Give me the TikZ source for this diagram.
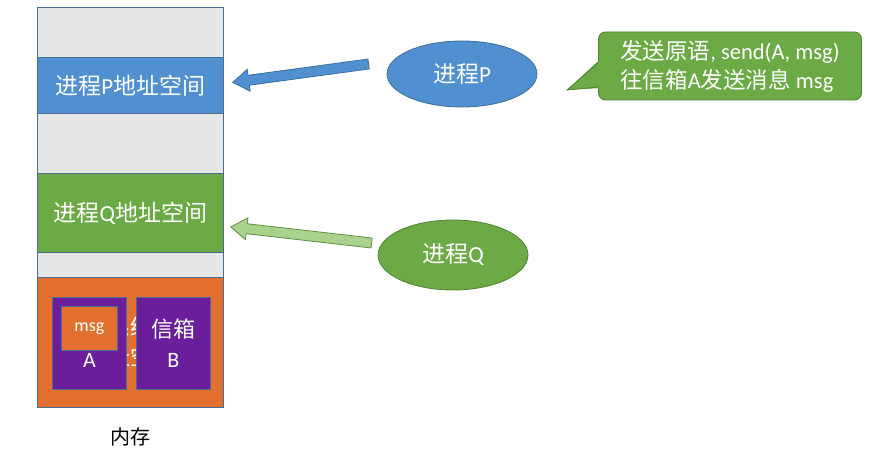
\documentclass[tikz,border=0pt]{standalone}
\usepackage{fontspec}
\setmainfont{Carlito}
\newfontfamily\cjk{Noto Sans CJK SC}
\usepackage{tikz}
\usetikzlibrary{calc, positioning, shapes.geometric}
\usepackage{xcolor}
\definecolor{memgray}{HTML}{E7E6E6}
\definecolor{memline}{HTML}{4A6E91}
\definecolor{procblue}{HTML}{5090D0}
\definecolor{blueline}{HTML}{3C6E9F}
\definecolor{procgreen}{HTML}{6BAA45}
\definecolor{greenline}{HTML}{4F8332}
\definecolor{lightgreen}{HTML}{A9D38C}
\definecolor{kernorange}{HTML}{E3702F}
\definecolor{boxpurple}{HTML}{6A1E9C}

\newcommand{\blockarrow}[4]{%
  \filldraw[fill=#3, draw=#4, line width=0.8pt, line join=miter]
    ($(#1)!5pt!90:(#2)$) -- ($(#2)!16pt!(#1)!5pt!90:(#2)$)
    -- ($(#2)!16pt!(#1)!11pt!90:(#2)$) -- (#2)
    -- ($(#2)!16pt!(#1)!11pt!-90:(#2)$) -- ($(#2)!16pt!(#1)!5pt!-90:(#2)$)
    -- ($(#1)!5pt!-90:(#2)$) -- cycle;}

\begin{document}
\begin{tikzpicture}[x=1pt, y=-1pt,
    band/.style={rectangle, draw=memline, line width=0.8pt, minimum width=186,
                 inner sep=0pt, anchor=north west, text=white,
                 font=\fontsize{23}{27}\selectfont},
    mbox/.style={rectangle, draw=memline, line width=0.8pt, fill=boxpurple,
                 minimum width=74, minimum height=92, inner sep=0pt,
                 anchor=north west, text=white, align=center,
                 font=\fontsize{22}{30}\selectfont},
    proc/.style={ellipse, draw=blueline, line width=0.8pt, minimum width=150,
                 text=white, font=\fontsize{23}{27}\selectfont},
    note/.style={rectangle, rounded corners=7pt, draw=greenline, line width=0.8pt,
                 fill=procgreen, minimum width=263, minimum height=68,
                 text=white, align=left, font=\fontsize{22.5}{29}\selectfont}
  ]
    \fill[white] (0,0) rectangle (883,454);
    \useasboundingbox (0,0) rectangle (883,454);

    \node[band, fill=memgray, minimum height=50] (g1) at (37,7) {};
    \node[band, fill=procblue, minimum height=56] (memP) at (37,57) {{\cjk 进程}P{\cjk 地址空间}};
    \node[band, fill=memgray, minimum height=60] (g2) at (37,113) {};
    \node[band, fill=procgreen, minimum height=79] (memQ) at (37,173) {{\cjk 进程}Q{\cjk 地址空间}};
    \node[band, fill=memgray, minimum height=25] (g3) at (37,252) {};
    \node[band, fill=kernorange, minimum height=130, align=center,
          font=\fontsize{22}{30}\selectfont\cjk] (kern) at (37,277) {操作系统内核\\地址空间};

    \node[mbox] (boxA) at (52,297) {};
    \node[mbox] (boxB) at (136,297) {{\cjk 信箱}\\B};
    \node[rectangle, draw=memline, line width=0.8pt, fill=kernorange, anchor=north west,
          minimum width=56, minimum height=44, inner sep=0pt, text=white,
          font=\fontsize{18}{20}\selectfont] (msg) at (61,306) {msg};
    \node[text=white, font=\fontsize{22}{26}\selectfont] (labA) at ($(boxA.south)+(0,-29)$) {A};

    \node[font=\fontsize{20}{24}\selectfont\cjk] (mem) at (130,437) {内存};

    \node[proc, fill=procblue, minimum height=66] (pP) at (462,74) {{\cjk 进程}P};
    \node[proc, fill=procgreen, draw=greenline, minimum height=70] (pQ) at (453,255) {{\cjk 进程}Q};

    \coordinate (tailP) at ($(pP.west)+(-18,-10)$);
    \coordinate (tipP) at ($(memP.east)+(9,-3)$);
    \coordinate (tailQ) at ($(pQ.west)+(-6,-12)$);
    \coordinate (tipQ) at ($(memQ.east)+(7,14)$);
    \blockarrow{tailP}{tipP}{procblue}{blueline}
    \blockarrow{tailQ}{tipQ}{lightgreen}{greenline!90}

    \node[note] (send) at (730,66) {{\cjk 发送原语}, send(A, msg)\\{\cjk 往信箱}A{\cjk 发送消息} msg};
    \fill[procgreen] ($(send.west)+(-1,-4)$) -- (567,90) -- ($(send.west)+(4,22)$) -- ($(send.west)+(4,-4)$) -- cycle;
    \draw[greenline, line width=0.8pt] ($(send.west)+(0,-3)$) -- (567,90) -- ($(send.west)+(0,21)$);
  \end{tikzpicture}
\end{document}
